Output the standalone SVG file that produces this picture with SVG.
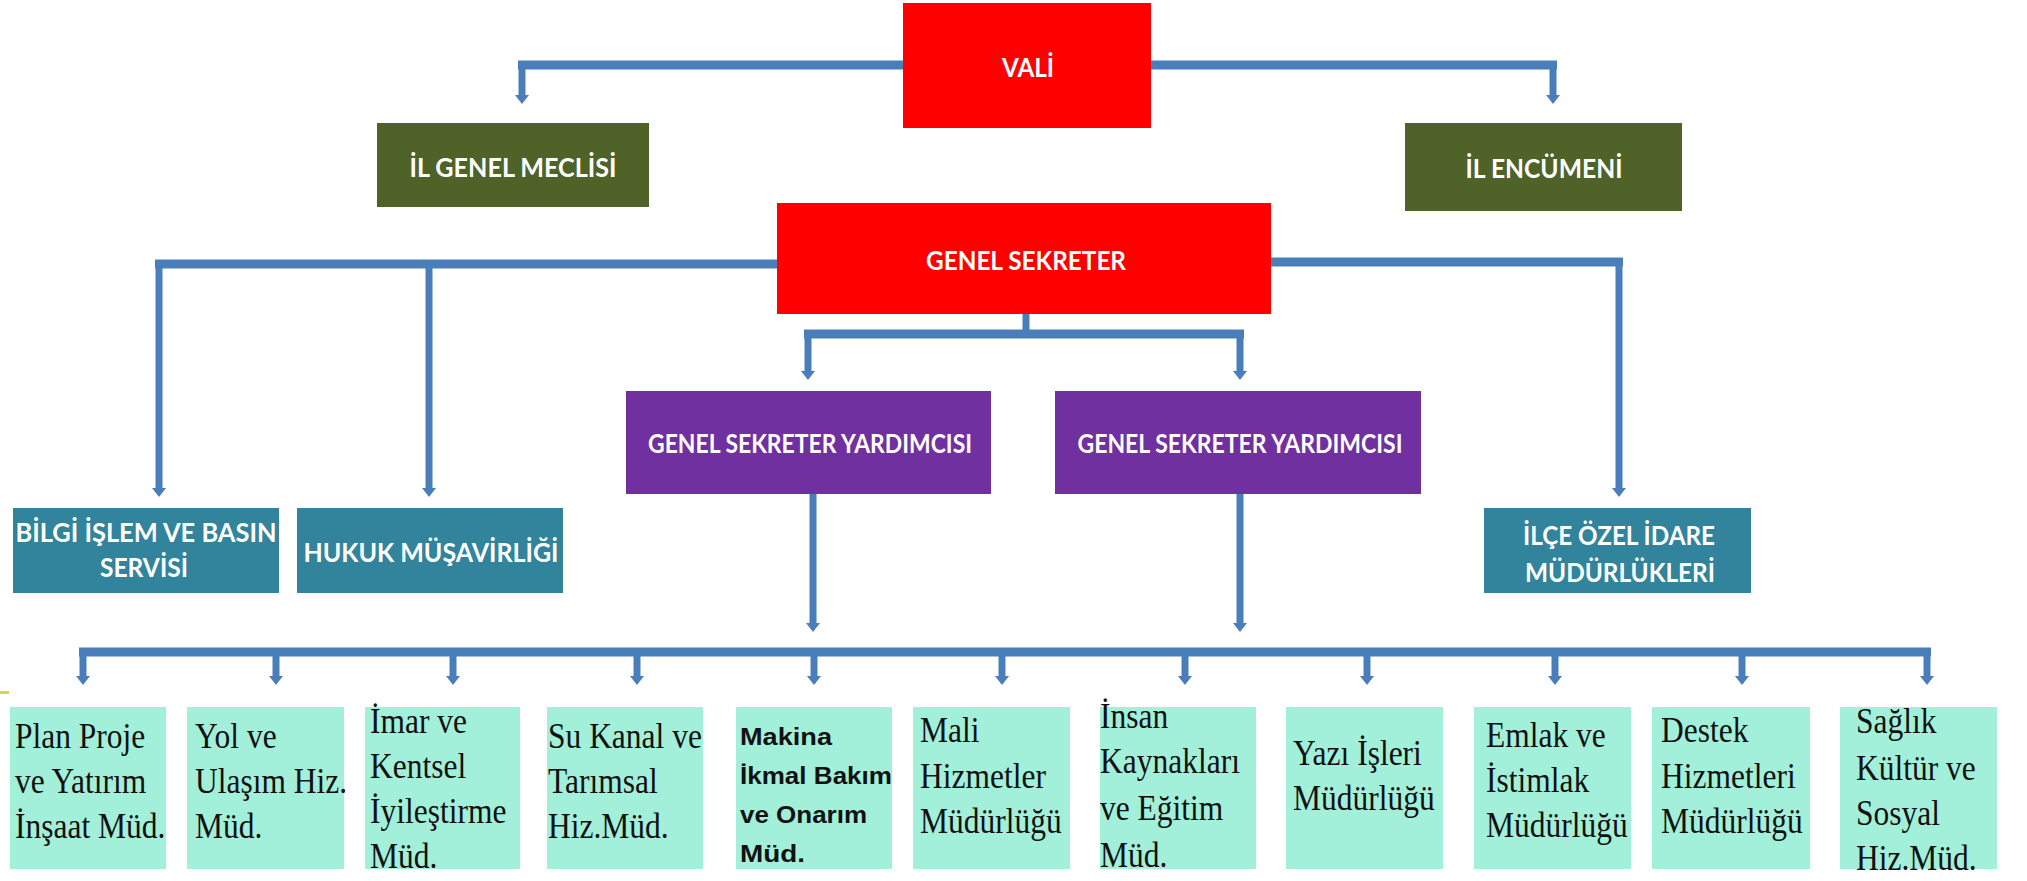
<svg xmlns="http://www.w3.org/2000/svg" width="2027" height="881" viewBox="0 0 2027 881">
<style>
.hdr{font-family:Lato,"Open Sans","Liberation Sans",sans-serif;font-weight:700;font-size:26px;fill:#ffffff;text-anchor:middle}
.leaf{fill:#a2f0da}
.lt{font-family:"Liberation Serif","Times New Roman",serif;font-size:35px;fill:#111111}
.lb{font-family:"Liberation Sans",Arial,sans-serif;font-weight:700;font-size:23px;fill:#111111}
.h{stroke:#4a7ebb;stroke-width:9;fill:none}
.v{stroke:#4a7ebb;stroke-width:7;fill:none}
.va{stroke:#4a7ebb;stroke-width:7;fill:none;marker-end:url(#ah)}
</style>
<defs>
<marker id="ah" viewBox="0 0 9 14" refX="2" refY="7" markerWidth="9" markerHeight="14" markerUnits="userSpaceOnUse" orient="auto">
<path d="M0,0 L9,7 L0,14 z" fill="#4a7ebb"/>
</marker>
</defs>
<rect width="2027" height="881" fill="#ffffff"/>

<g id="connectors">
<line class="h" x1="518" y1="65" x2="903" y2="65"/>
<line class="va" x1="522" y1="61" x2="522" y2="97"/>
<line class="h" x1="1151" y1="65" x2="1557" y2="65"/>
<line class="va" x1="1553" y1="61" x2="1553" y2="97"/>

<line class="h" x1="155" y1="264" x2="777" y2="264"/>
<line class="va" x1="159" y1="260" x2="159" y2="490"/>
<line class="va" x1="429" y1="264" x2="429" y2="490"/>
<line class="h" x1="1271" y1="262" x2="1623" y2="262"/>
<line class="va" x1="1619" y1="258" x2="1619" y2="490"/>

<line class="v" x1="1026" y1="314" x2="1026" y2="334"/>
<line class="h" x1="804" y1="334" x2="1244" y2="334"/>
<line class="va" x1="808" y1="334" x2="808" y2="373"/>
<line class="va" x1="1240" y1="334" x2="1240" y2="373"/>

<line class="va" x1="813" y1="494" x2="813" y2="625"/>
<line class="va" x1="1240" y1="494" x2="1240" y2="625"/>

<line class="h" x1="79" y1="652" x2="1931" y2="652"/>
<line class="va" x1="83" y1="652" x2="83" y2="678"/>
<line class="va" x1="276" y1="652" x2="276" y2="678"/>
<line class="va" x1="453" y1="652" x2="453" y2="678"/>
<line class="va" x1="637" y1="652" x2="637" y2="678"/>
<line class="va" x1="814" y1="652" x2="814" y2="678"/>
<line class="va" x1="1002" y1="652" x2="1002" y2="678"/>
<line class="va" x1="1185" y1="652" x2="1185" y2="678"/>
<line class="va" x1="1367" y1="652" x2="1367" y2="678"/>
<line class="va" x1="1555" y1="652" x2="1555" y2="678"/>
<line class="va" x1="1742" y1="652" x2="1742" y2="678"/>
<line class="va" x1="1927" y1="652" x2="1927" y2="678"/>
</g>

<rect x="0" y="691" width="9" height="3" fill="#d8d060"/>

<g id="vali">
<rect x="903" y="3" width="248" height="125" fill="#ff0000"/>
<text class="hdr" x="1028" y="77" textLength="52" lengthAdjust="spacingAndGlyphs">VALİ</text>
</g>
<g id="il-genel-meclisi">
<rect x="377" y="123" width="272" height="84" fill="#4f6228"/>
<text class="hdr" x="513" y="177" textLength="207" lengthAdjust="spacingAndGlyphs">İL GENEL MECLİSİ</text>
</g>
<g id="il-encumeni">
<rect x="1405" y="123" width="277" height="88" fill="#4f6228"/>
<text class="hdr" x="1544" y="178" textLength="157" lengthAdjust="spacingAndGlyphs">İL ENCÜMENİ</text>
</g>
<g id="genel-sekreter">
<rect x="777" y="203" width="494" height="111" fill="#ff0000"/>
<text class="hdr" x="1026" y="270" textLength="200" lengthAdjust="spacingAndGlyphs">GENEL SEKRETER</text>
</g>
<g id="gsy1">
<rect x="626" y="391" width="365" height="103" fill="#7030a0"/>
<text class="hdr" x="810" y="453" textLength="324" lengthAdjust="spacingAndGlyphs">GENEL SEKRETER YARDIMCISI</text>
</g>
<g id="gsy2">
<rect x="1055" y="391" width="366" height="103" fill="#7030a0"/>
<text class="hdr" x="1240" y="453" textLength="325" lengthAdjust="spacingAndGlyphs">GENEL SEKRETER YARDIMCISI</text>
</g>
<g id="bilgi-islem">
<rect x="13" y="508" width="266" height="85" fill="#31849b"/>
<text class="hdr" x="146" y="542" textLength="261" lengthAdjust="spacingAndGlyphs">BİLGİ İŞLEM VE BASIN</text>
<text class="hdr" x="144" y="577" textLength="88" lengthAdjust="spacingAndGlyphs">SERVİSİ</text>
</g>
<g id="hukuk">
<rect x="297" y="508" width="266" height="85" fill="#31849b"/>
<text class="hdr" x="431" y="562" textLength="255" lengthAdjust="spacingAndGlyphs">HUKUK MÜŞAVİRLİĞİ</text>
</g>
<g id="ilce">
<rect x="1484" y="508" width="267" height="85" fill="#31849b"/>
<text class="hdr" x="1619" y="545" textLength="192" lengthAdjust="spacingAndGlyphs">İLÇE ÖZEL İDARE</text>
<text class="hdr" x="1620" y="582" textLength="190" lengthAdjust="spacingAndGlyphs">MÜDÜRLÜKLERİ</text>
</g>

<g id="plan-proje">
<rect class="leaf" x="10" y="707" width="156" height="162"/>
<text class="lt" transform="translate(15 0) scale(0.9 1)"><tspan x="0" y="748">Plan Proje</tspan><tspan x="0" y="793">ve Yatırım</tspan><tspan x="0" y="838">İnşaat Müd.</tspan></text>
</g>
<g id="yol">
<rect class="leaf" x="187" y="707" width="157" height="162"/>
<text class="lt" transform="translate(195 0) scale(0.9 1)"><tspan x="0" y="748">Yol ve</tspan><tspan x="0" y="793">Ulaşım Hiz.</tspan><tspan x="0" y="838">Müd.</tspan></text>
</g>
<g id="imar">
<rect class="leaf" x="365" y="707" width="155" height="162"/>
<text class="lt" transform="translate(370 0) scale(0.9 1)"><tspan x="0" y="733">İmar ve</tspan><tspan x="0" y="778">Kentsel</tspan><tspan x="0" y="823">İyileştirme</tspan><tspan x="0" y="868">Müd.</tspan></text>
</g>
<g id="su-kanal">
<rect class="leaf" x="547" y="707" width="156" height="162"/>
<text class="lt" transform="translate(548 0) scale(0.9 1)"><tspan x="0" y="748">Su Kanal ve</tspan><tspan x="0" y="793">Tarımsal</tspan><tspan x="0" y="838">Hiz.Müd.</tspan></text>
</g>
<g id="makina">
<rect class="leaf" x="736" y="707" width="156" height="162"/>
<text class="lb" x="740" y="745" textLength="92" lengthAdjust="spacingAndGlyphs">Makina</text>
<text class="lb" x="740" y="784" textLength="152" lengthAdjust="spacingAndGlyphs">İkmal Bakım</text>
<text class="lb" x="740" y="823" textLength="127" lengthAdjust="spacingAndGlyphs">ve Onarım</text>
<text class="lb" x="740" y="862" textLength="65" lengthAdjust="spacingAndGlyphs">Müd.</text>
</g>
<g id="mali">
<rect class="leaf" x="913" y="707" width="157" height="162"/>
<text class="lt" transform="translate(920 0) scale(0.9 1)"><tspan x="0" y="742">Mali</tspan><tspan x="0" y="788">Hizmetler</tspan><tspan x="0" y="833">Müdürlüğü</tspan></text>
</g>
<g id="insan">
<rect class="leaf" x="1100" y="707" width="156" height="162"/>
<text class="lt" transform="translate(1100 0) scale(0.9 1)"><tspan x="0" y="728">İnsan</tspan><tspan x="0" y="773">Kaynakları</tspan><tspan x="0" y="820">ve Eğitim</tspan><tspan x="0" y="867">Müd.</tspan></text>
</g>
<g id="yazi">
<rect class="leaf" x="1286" y="707" width="157" height="162"/>
<text class="lt" transform="translate(1293 0) scale(0.9 1)"><tspan x="0" y="765">Yazı İşleri</tspan><tspan x="0" y="810">Müdürlüğü</tspan></text>
</g>
<g id="emlak">
<rect class="leaf" x="1474" y="707" width="157" height="162"/>
<text class="lt" transform="translate(1486 0) scale(0.9 1)"><tspan x="0" y="747">Emlak ve</tspan><tspan x="0" y="792">İstimlak</tspan><tspan x="0" y="837">Müdürlüğü</tspan></text>
</g>
<g id="destek">
<rect class="leaf" x="1652" y="707" width="158" height="162"/>
<text class="lt" transform="translate(1661 0) scale(0.9 1)"><tspan x="0" y="742">Destek</tspan><tspan x="0" y="788">Hizmetleri</tspan><tspan x="0" y="833">Müdürlüğü</tspan></text>
</g>
<g id="saglik">
<rect class="leaf" x="1840" y="707" width="157" height="162"/>
<text class="lt" transform="translate(1856 0) scale(0.9 1)"><tspan x="0" y="733">Sağlık</tspan><tspan x="0" y="780">Kültür ve</tspan><tspan x="0" y="825">Sosyal</tspan><tspan x="0" y="870">Hiz.Müd.</tspan></text>
</g>
</svg>
